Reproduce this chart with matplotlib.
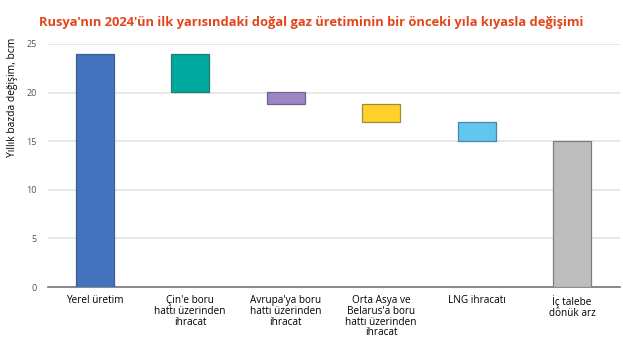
import numpy as np
import matplotlib.pyplot as plt

plt.rcParams['font.family'] = ['Open Sans', 'DejaVu Sans']

categories = ['Yerel üretim', 'Çin\'e boru\nhattı üzerinden\nihracat',
              'Avrupa\'ya boru\nhattı üzerinden\nihracat',
              'Orta Asya ve\nBelarus\'a boru\nhattı üzerinden\nihracat',
              'LNG ihracatı', 'İç talebe\ndönük arz']
start = 24.0
changes = [-3.9, -1.3, -1.8, -2.0]
end = 15.0

colors = ['#4373BC', '#00A99D', '#9C86C4', '#FFD12A', '#62C6F1', '#BDBDBD']
edges = ['#3B5E96', '#2B7A72', '#6E6290', '#A08A3A', '#4A86A8', '#7E7E7E']

# waterfall: bottoms and heights
bottoms = [0]
heights = [start]
level = start
for c in changes:
    level += c
    bottoms.append(level)
    heights.append(-c)
bottoms.append(0)
heights.append(end)

fig = plt.figure(figsize=(6.23, 3.43), dpi=100)
ax = fig.add_axes([0.077, 0.163, 0.918, 0.709])
x = np.arange(len(categories))
ax.bar(x, heights, bottom=bottoms, width=0.4, color=colors, edgecolor=edges,
       linewidth=0.9, zorder=3)

ax.set_xlim(-0.49, 5.5)
ax.set_ylim(0, 25)
ax.set_yticks(np.arange(0, 26, 5))
ax.yaxis.grid(True, color='#E3E3E3', linewidth=1.2, zorder=0)
ax.set_xticks(x)
ax.set_xticklabels(categories, fontsize=7.2, linespacing=0.95)
ax.tick_params(axis='x', length=0, pad=6)
ax.tick_params(axis='y', length=0, labelsize=6.5, labelcolor='#555555', pad=8)
for s in ['top', 'right', 'left']:
    ax.spines[s].set_visible(False)
ax.spines['bottom'].set_color('#777777')
ax.spines['bottom'].set_linewidth(1.2)

ax.set_ylabel('Yıllık bazda değişim, bcm', fontsize=7.4)
ax.yaxis.set_label_coords(-0.052, 0.78)
fig.text(0.5, 0.935, 'Rusya\'nın 2024\'ün ilk yarısındaki doğal gaz üretiminin bir önceki yıla kıyasla değişimi',
         ha='center', va='center', fontsize=9.3, fontweight='bold', color='#E2451C')

fig.savefig('out.png', dpi=100)
